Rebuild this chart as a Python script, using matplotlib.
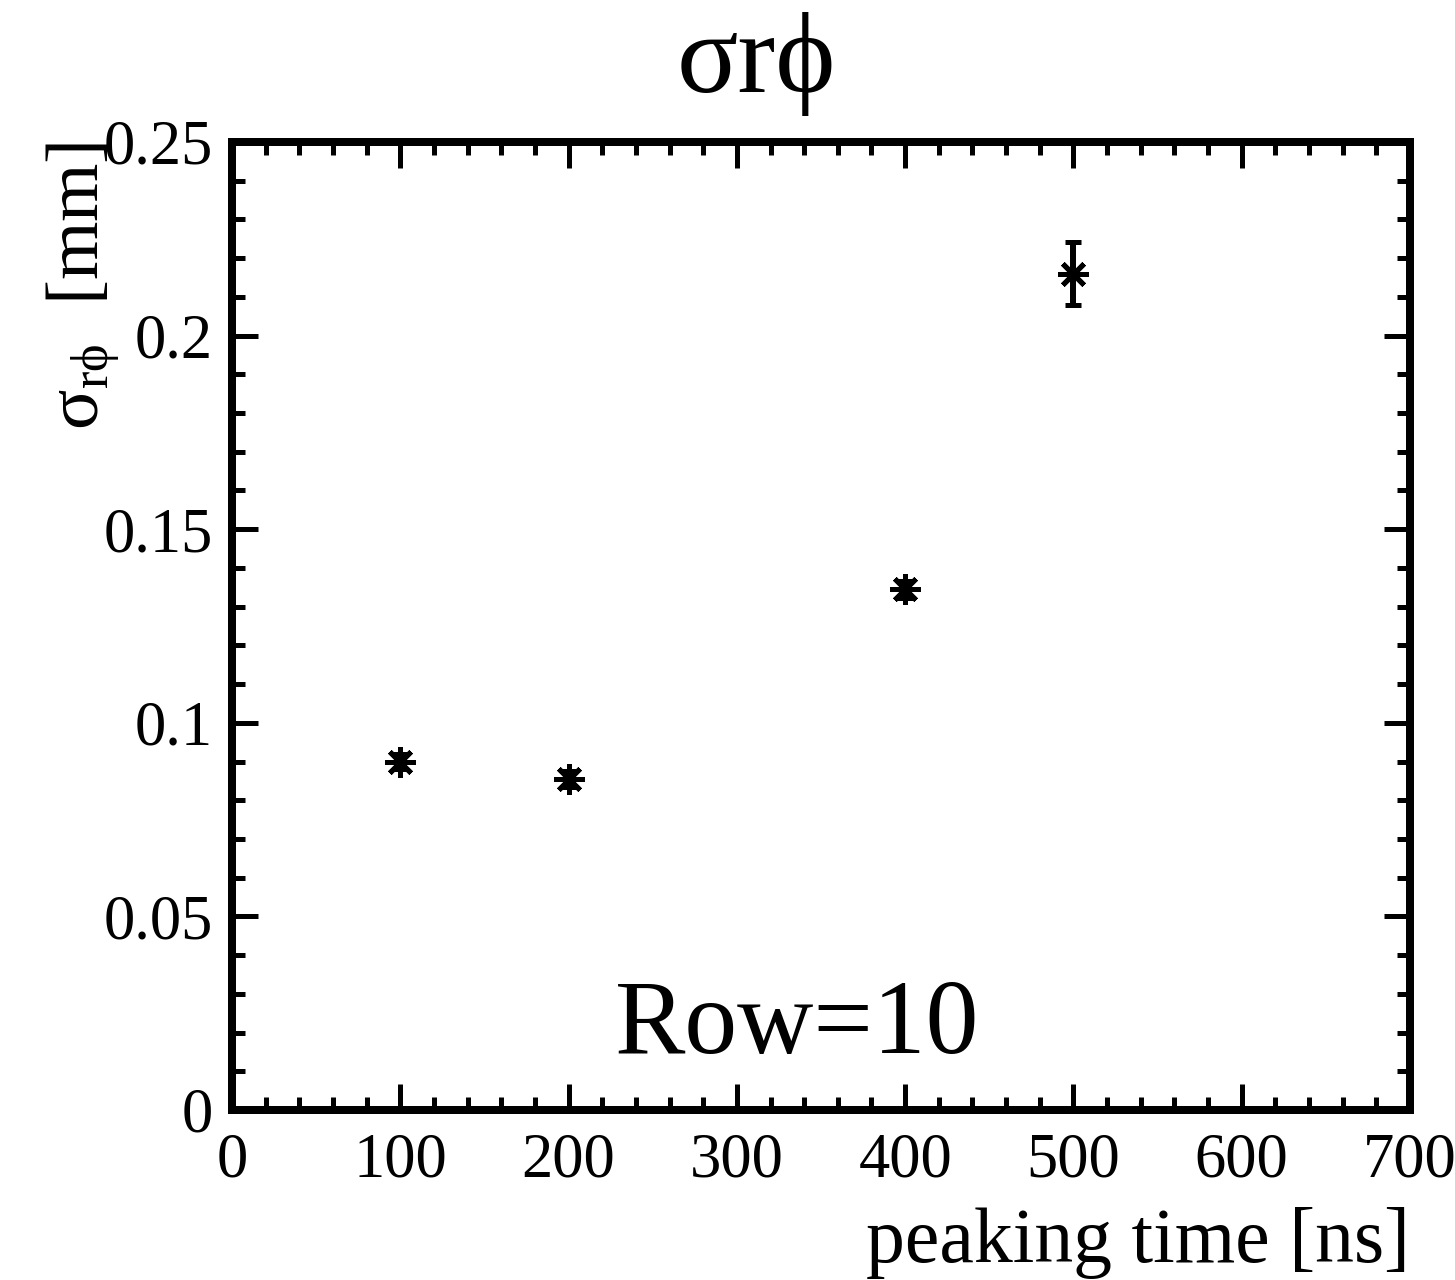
import matplotlib
matplotlib.use("Agg")
import matplotlib.pyplot as plt
from matplotlib.ticker import MultipleLocator, FixedFormatter, FixedLocator

# Data: spatial resolution vs. peaking time
peaking_time = [100, 200, 400, 500]
sigma_rphi = [0.0900, 0.0855, 0.1345, 0.2160]
sigma_err = [0.0020, 0.0020, 0.0022, 0.0082]

x_ticks = [0, 100, 200, 300, 400, 500, 600, 700]
y_ticks = [0, 0.05, 0.10, 0.15, 0.20, 0.25]
y_tick_labels = ["0", "0.05", "0.1", "0.15", "0.2", "0.25"]

plt.rcParams["font.family"] = ["Liberation Serif", "DejaVu Serif"]
plt.rcParams["mathtext.fontset"] = "custom"
plt.rcParams["mathtext.rm"] = "Liberation Serif"
plt.rcParams["mathtext.it"] = "Liberation Serif"

DPI = 100
W, H = 1455, 1280
fig = plt.figure(figsize=(W / DPI, H / DPI), dpi=DPI)
ax = fig.add_axes([232 / W, 1 - 1110 / H, (1410 - 232) / W, (1110 - 142) / H])

px = 72.0 / DPI  # points per pixel

ax.errorbar(peaking_time, sigma_rphi, yerr=sigma_err, fmt="none",
            ecolor="black", elinewidth=6 * px, capsize=5.8, capthick=5 * px, zorder=3)
ax.plot(peaking_time, sigma_rphi, linestyle="none", marker=(8, 2, 0),
        markersize=30 * px, markeredgewidth=5 * px, color="black", zorder=4)

ax.set_xlim(0, 700)
ax.set_ylim(0, 0.25)

for s in ax.spines.values():
    s.set_linewidth(8 * px)

ax.xaxis.set_major_locator(FixedLocator(x_ticks))
ax.xaxis.set_minor_locator(MultipleLocator(20))
ax.yaxis.set_major_locator(FixedLocator(y_ticks))
ax.yaxis.set_major_formatter(FixedFormatter(y_tick_labels))
ax.yaxis.set_minor_locator(MultipleLocator(0.01))

ax.tick_params(which="both", direction="in", top=True, right=True,
               width=5 * px, color="black")
ax.tick_params(which="major", length=26 * px, labelsize=45)
ax.tick_params(which="minor", length=13 * px)
ax.tick_params(axis="x", which="major", pad=16)
ax.tick_params(axis="y", which="major", pad=14)

# Annotation inside the frame
ax.text(336, 0.0147, "Row=10", fontsize=76, ha="center", va="baseline")

fig.text(756 / W, 1 - 92 / H, "σrϕ", fontsize=82, ha="center", va="baseline")

fig.text(1410 / W, 1 - 1262 / H, "peaking time [ns]", fontsize=56,
         ha="right", va="baseline")

fig.text(83 / W, 1 - 142 / H, r"σ$_{\mathrm{rϕ}}$  [mm]", fontsize=54,
         rotation=90, ha="center", va="top")

fig.savefig("out.png", dpi=DPI)
